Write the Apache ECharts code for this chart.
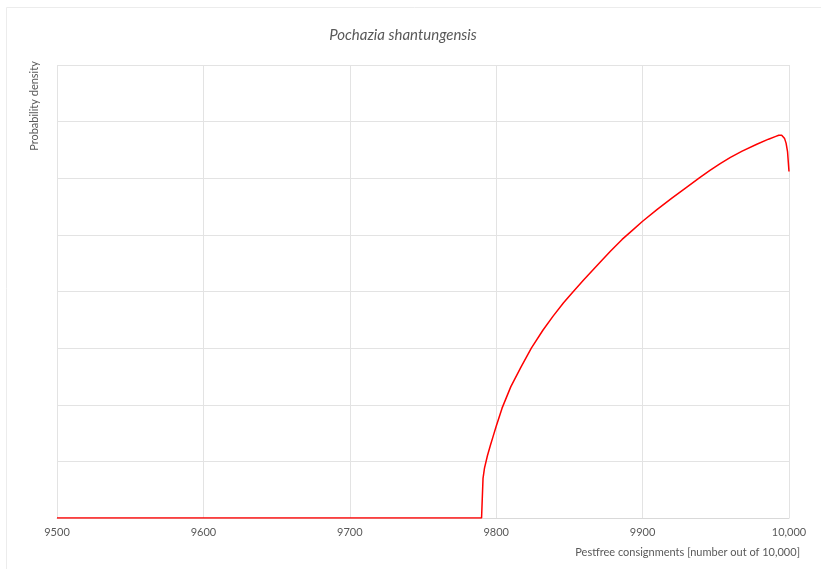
<!DOCTYPE html>
<html>
<head>
<meta charset="utf-8">
<script src="https://cdn.jsdelivr.net/npm/echarts@6/dist/echarts.min.js"></script>
<style>
html,body{margin:0;padding:0;background:#fff;}
#chart{width:821px;height:569px;}
</style>
</head>
<body>
<div id="chart"></div>
<script>
var titleText = 'Pochazia shantungensis';
var xAxisTitle = 'Pestfree consignments [number out of 10,000]';
var yAxisTitle = 'Probability density';
var xTicks = [9500, 9600, 9700, 9800, 9900, 10000];
var xTickLabels = ['9500', '9600', '9700', '9800', '9900', '10,000'];
var xValues = [9500, 9790, 9791, 9792, 9794, 9796, 9798, 9800, 9804, 9810, 9817, 9824, 9832, 9839, 9846, 9853, 9860, 9870, 9878, 9886, 9893, 9900, 9910, 9920, 9930, 9939, 9946, 9953, 9960, 9968, 9978, 9986, 9991, 9993, 9995, 9997, 9998, 9999, 10000];
var density = [0, 0, 0.7, 0.88, 1.1, 1.28, 1.45, 1.62, 1.94, 2.32, 2.67, 3.0, 3.32, 3.57, 3.8, 4.01, 4.21, 4.49, 4.71, 4.92, 5.08, 5.24, 5.45, 5.65, 5.84, 6.01, 6.14, 6.26, 6.37, 6.48, 6.6, 6.69, 6.74, 6.76, 6.76, 6.7, 6.62, 6.47, 6.12];

var font = "Lato, 'Open Sans', sans-serif";
var chart = echarts.init(document.getElementById('chart'));
chart.setOption({
  animation: false,
  backgroundColor: '#ffffff',
  grid: {left: 57, right: 32, top: 65, bottom: 51, containLabel: false},
  xAxis: {
    type: 'value', min: 9500, max: 10000, interval: 100,
    axisLine: {show: true, lineStyle: {color: '#d9d9d9', width: 1}},
    axisTick: {show: false},
    axisLabel: {color: '#595959', fontSize: 11, fontFamily: font, margin: 9,
      formatter: function (v) { var i = xTicks.indexOf(v); return i >= 0 ? xTickLabels[i] : ''; }},
    splitLine: {show: true, lineStyle: {color: '#e3e3e3', width: 1}}
  },
  yAxis: {
    type: 'value', min: 0, max: 8, interval: 1,
    axisLine: {show: false}, axisTick: {show: false}, axisLabel: {show: false},
    splitLine: {show: true, lineStyle: {color: '#e3e3e3', width: 1}}
  },
  series: [{
    type: 'line', data: xValues.map(function (x, i) { return [x, density[i]]; }),
    showSymbol: false, smooth: false,
    lineStyle: {color: '#ff0000', width: 1.5}
  }],
  graphic: [
    {type: 'rect', shape: {x: 6.5, y: 7.5, width: 900, height: 700}, style: {fill: 'none', stroke: '#ececec', lineWidth: 1}, silent: true},
    {type: 'text', x: 403, y: 35, style: {text: titleText, font: 'italic 15px ' + font, fill: '#595959', textAlign: 'center', textVerticalAlign: 'middle'}},
    {type: 'text', x: 34, y: 106, rotation: Math.PI / 2, style: {text: yAxisTitle, font: '11px ' + font, fill: '#595959', textAlign: 'center', textVerticalAlign: 'middle'}},
    {type: 'text', x: 800, y: 552, style: {text: xAxisTitle, font: '11px ' + font, fill: '#595959', textAlign: 'right', textVerticalAlign: 'middle'}}
  ]
});
</script>
</body>
</html>
